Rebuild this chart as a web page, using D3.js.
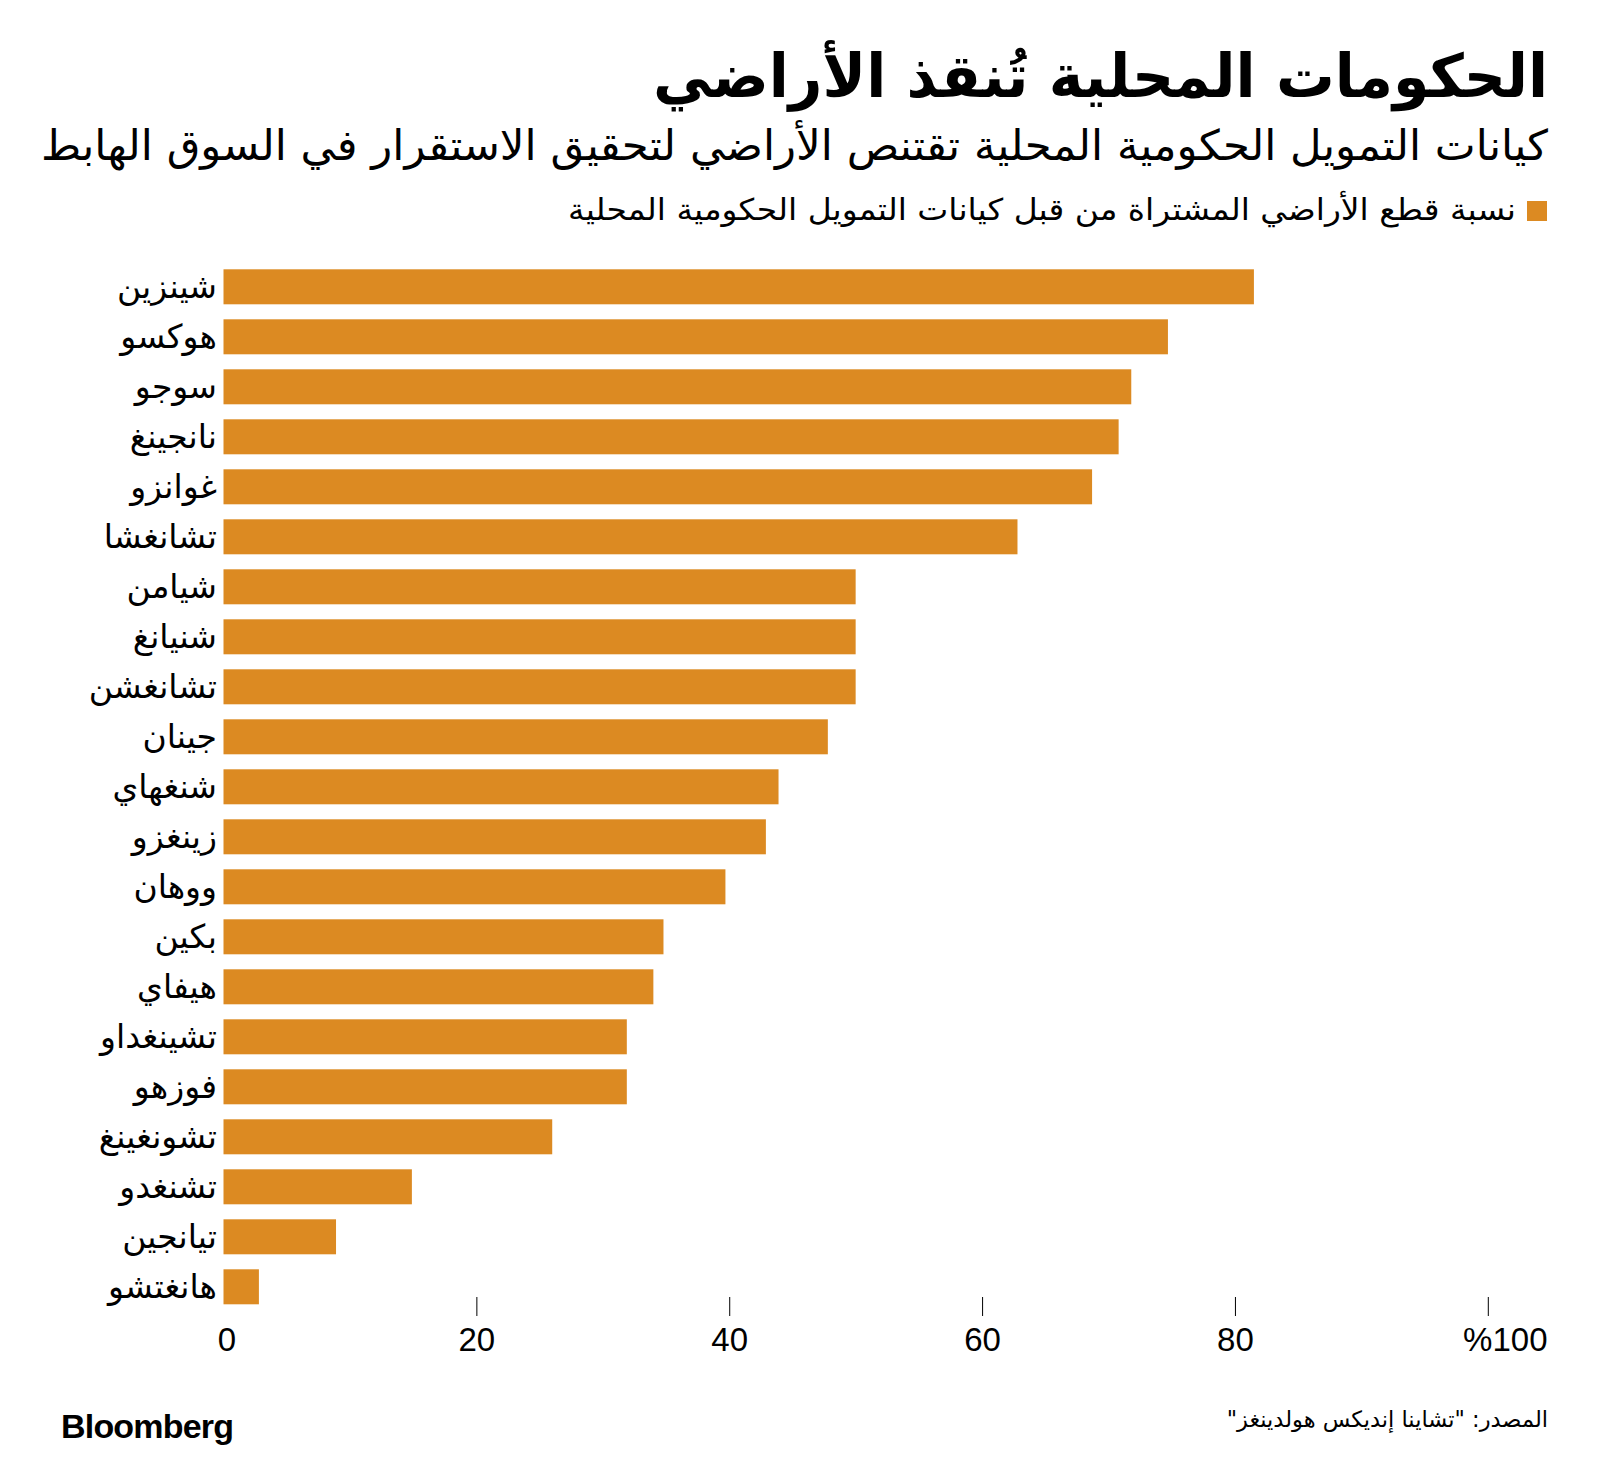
<!DOCTYPE html>
<html>
<head>
<meta charset="utf-8">
<script src="https://cdn.jsdelivr.net/npm/d3@7"></script>
<style>
html,body{margin:0;padding:0;background:#fff;}
svg{display:block;}
</style>
</head>
<body>
<svg id="chart" width="1600" height="1464"></svg>
<script>
const titleText = "الحكومات المحلية تُنقذ الأراضي";
const subtitleText = "كيانات التمويل الحكومية المحلية تقتنص الأراضي لتحقيق الاستقرار في السوق الهابط";
const legendText = "نسبة قطع الأراضي المشتراة من قبل كيانات التمويل الحكومية المحلية";
const sourceText = "المصدر: \"تشاينا إنديكس هولدينغز\"";

const cities = ["شينزين","هوكسو","سوجو","نانجينغ","غوانزو","تشانغشا","شيامن","شنيانغ","تشانغشن","جينان","شنغهاي","زينغزو","ووهان","بكين","هيفاي","تشينغداو","فوزهو","تشونغينغ","تشنغدو","تيانجين","هانغتشو"];
const shares = [81.5,74.7,71.8,70.8,68.7,62.8,50.0,50.0,50.0,47.8,43.9,42.9,39.7,34.8,34.0,31.9,31.9,26.0,14.9,8.9,2.8];
const tickValues = [0,20,40,60,80,100];
const tickLabels = ["0","20","40","60","80","%100"];

const svg = d3.select("#chart");
const arabicFont = "'DejaVu Sans', sans-serif";
const latinFont = "'Liberation Sans', Arial, sans-serif";
const barColor = "#dc8a22";

const x = d3.scaleLinear().domain([0,100]).range([223.5,1487.8]);
const y = d3.scaleBand().domain(cities).range([261.8,1311.8]).paddingInner(0.3).paddingOuter(0.15);

function rtlText(xp, yp, size, txt, weight, width) {
  const t = svg.append("text").attr("x",xp).attr("y",yp)
    .attr("direction","rtl").attr("text-anchor","start")
    .attr("font-family",arabicFont).attr("font-weight",weight||"normal")
    .attr("font-size",size).attr("fill","#000").text(txt);
  if (width) t.attr("textLength",width).attr("lengthAdjust","spacingAndGlyphs");
  return t;
}

// Title, subtitle, legend
rtlText(1548, 97, 60, titleText, "bold", 895);
rtlText(1548, 160, 42, subtitleText, "normal", 1507);
svg.append("rect").attr("x",1527).attr("y",201).attr("width",20).attr("height",20).attr("fill",barColor);
rtlText(1516, 220, 30, legendText, "normal", 948);

// Bars
svg.append("g").selectAll("rect").data(cities).join("rect")
  .attr("x",x(0)).attr("y",d=>y(d))
  .attr("width",(d,i)=>x(shares[i])-x(0))
  .attr("height",y.bandwidth())
  .attr("fill",barColor);

// Category labels
svg.append("g").selectAll("text").data(cities).join("text")
  .attr("x",217).attr("y",d=>y(d)+y.bandwidth()/2)
  .attr("dy","0.35em")
  .attr("direction","rtl").attr("text-anchor","start")
  .attr("font-family",arabicFont).attr("font-size",33)
  .attr("fill","#000").text(d=>d);

// X axis
const axis = d3.axisBottom(x).tickValues(tickValues)
  .tickSize(19).tickPadding(12)
  .tickFormat((d,i)=>tickLabels[i]);
const gx = svg.append("g").attr("transform","translate(0,1297)").call(axis);
gx.select(".domain").remove();
gx.selectAll(".tick line").attr("stroke","#000").attr("stroke-width",1)
  .attr("display",d=>d===0?"none":null);
gx.selectAll(".tick text").attr("font-family",latinFont).attr("font-size",33).attr("fill","#000")
  .attr("dy","0.71em");
gx.selectAll(".tick text").filter(d=>d===0).attr("dx",3);
gx.selectAll(".tick text").filter(d=>d===100).attr("text-anchor","middle").attr("dx",17);

// Source
rtlText(1548, 1427, 22.5, sourceText, "normal");

// Bloomberg
svg.append("text").attr("x",61).attr("y",1438)
  .attr("font-family",latinFont).attr("font-weight","bold").attr("font-size",34)
  .attr("letter-spacing",-0.8)
  .attr("fill","#000").text("Bloomberg");
</script>
</body>
</html>
